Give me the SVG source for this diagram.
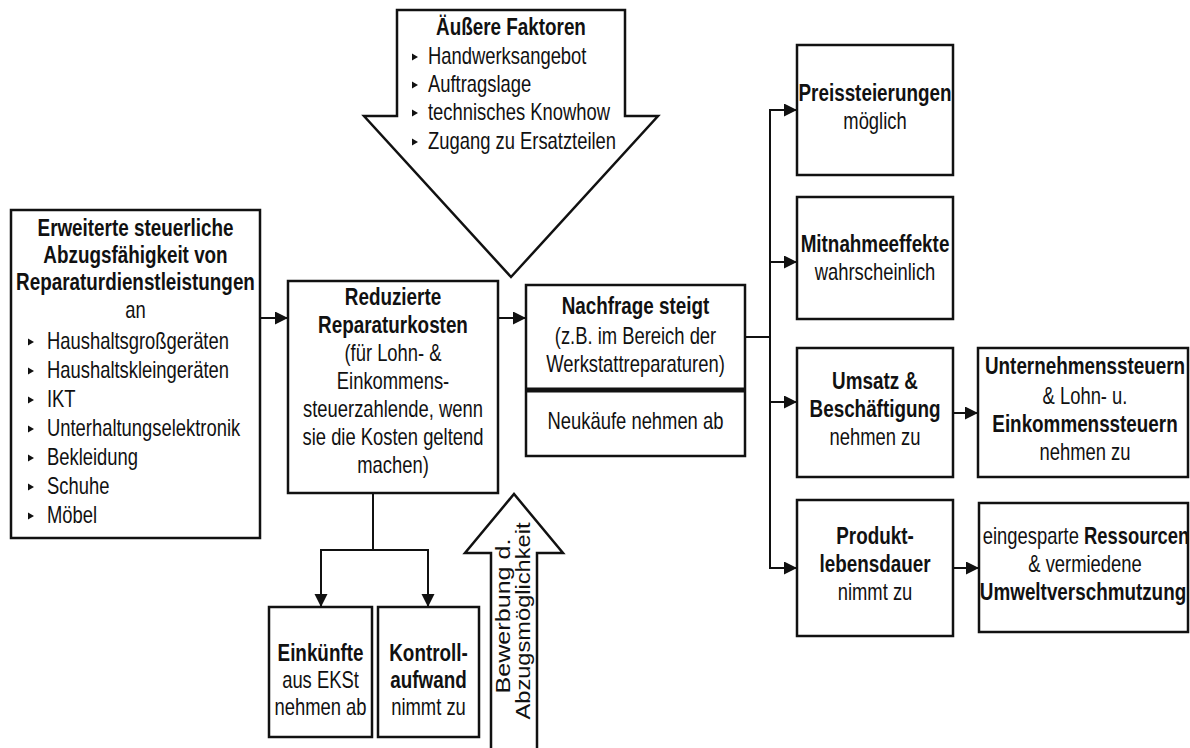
<svg xmlns="http://www.w3.org/2000/svg" width="1190" height="748" viewBox="0 0 1190 748">
<style>
.t{font-family:"Liberation Sans",Arial,sans-serif;font-size:23px;fill:#111}
.c{text-anchor:middle}
.b{font-weight:bold}
.box{fill:#fff;stroke:#111;stroke-width:2.5}
.ln{fill:none;stroke:#111;stroke-width:2}
.rt{font-family:"Liberation Sans",Arial,sans-serif;font-size:21px;fill:#111;text-anchor:middle}
</style>
<defs>
<marker id="ah" markerUnits="userSpaceOnUse" markerWidth="16" markerHeight="14" refX="13" refY="6.5" orient="auto">
<path d="M0,0 L13,6.5 L0,13 z" fill="#111"/>
</marker>
<path id="bul" d="M0,-3.5 L6,0 L0,3.5 z" fill="#111"/>
</defs>
<rect width="1190" height="748" fill="#fff"/>

<g id="aussere-faktoren">
<path class="box" d="M397,10 L625,10 L625,116 L658,116 L511,277 L364,116 L397,116 z"/>
<text class="t c b" transform="translate(511,35) scale(.82,1)">Äußere Faktoren</text>
<use href="#bul" x="412" y="57"/><text class="t" transform="translate(428,64) scale(.8,1)">Handwerksangebot</text>
<use href="#bul" x="412" y="85"/><text class="t" transform="translate(428,92) scale(.8,1)">Auftragslage</text>
<use href="#bul" x="412" y="113"/><text class="t" transform="translate(428,120) scale(.8,1)">technisches Knowhow</text>
<use href="#bul" x="412" y="142"/><text class="t" transform="translate(428,149) scale(.8,1)">Zugang zu Ersatzteilen</text>
</g>

<g id="erweiterte">
<rect class="box" x="11" y="210" width="249" height="328"/>
<text class="t c b" transform="translate(135.5,236) scale(.82,1)">Erweiterte steuerliche</text>
<text class="t c b" transform="translate(135.5,263) scale(.82,1)">Abzugsfähigkeit von</text>
<text class="t c b" transform="translate(135.5,290) scale(.82,1)">Reparaturdienstleistungen</text>
<text class="t c" transform="translate(135.5,318) scale(.8,1)">an</text>
<use href="#bul" x="28" y="342"/><text class="t" transform="translate(47,349) scale(.8,1)">Haushaltsgroßgeräten</text>
<use href="#bul" x="28" y="371"/><text class="t" transform="translate(47,378) scale(.8,1)">Haushaltskleingeräten</text>
<use href="#bul" x="28" y="400"/><text class="t" transform="translate(47,407) scale(.8,1)">IKT</text>
<use href="#bul" x="28" y="429"/><text class="t" transform="translate(47,436) scale(.8,1)">Unterhaltungselektronik</text>
<use href="#bul" x="28" y="458"/><text class="t" transform="translate(47,465) scale(.8,1)">Bekleidung</text>
<use href="#bul" x="28" y="487"/><text class="t" transform="translate(47,494) scale(.8,1)">Schuhe</text>
<use href="#bul" x="28" y="516"/><text class="t" transform="translate(47,523) scale(.8,1)">Möbel</text>
</g>

<g id="reduzierte">
<rect class="box" x="288" y="281" width="210" height="212"/>
<text class="t c b" transform="translate(393,305) scale(.82,1)">Reduzierte</text>
<text class="t c b" transform="translate(393,333) scale(.82,1)">Reparaturkosten</text>
<text class="t c" transform="translate(393,361) scale(.8,1)">(für Lohn- &amp;</text>
<text class="t c" transform="translate(393,389) scale(.8,1)">Einkommens-</text>
<text class="t c" transform="translate(393,417) scale(.8,1)">steuerzahlende, wenn</text>
<text class="t c" transform="translate(393,445) scale(.8,1)">sie die Kosten geltend</text>
<text class="t c" transform="translate(393,473) scale(.8,1)">machen)</text>
</g>

<g id="nachfrage">
<rect class="box" x="526" y="285" width="219" height="171"/>
<line x1="526" y1="390" x2="745" y2="390" stroke="#111" stroke-width="5"/>
<text class="t c b" transform="translate(635.5,314) scale(.82,1)">Nachfrage steigt</text>
<text class="t c" transform="translate(635.5,344) scale(.8,1)">(z.B. im Bereich der</text>
<text class="t c" transform="translate(635.5,372) scale(.8,1)">Werkstattreparaturen)</text>
<text class="t c" transform="translate(635.5,429) scale(.8,1)">Neukäufe nehmen ab</text>
</g>

<g id="preis">
<rect class="box" x="797" y="45" width="156" height="130"/>
<text class="t c b" transform="translate(875,101) scale(.82,1)">Preissteierungen</text>
<text class="t c" transform="translate(875,129) scale(.8,1)">möglich</text>
</g>

<g id="mitnahme">
<rect class="box" x="797" y="197" width="156" height="122"/>
<text class="t c b" transform="translate(875,252) scale(.82,1)">Mitnahmeeffekte</text>
<text class="t c" transform="translate(875,280) scale(.8,1)">wahrscheinlich</text>
</g>

<g id="umsatz">
<rect class="box" x="797" y="348" width="156" height="129"/>
<text class="t c b" transform="translate(875,389) scale(.82,1)">Umsatz &amp;</text>
<text class="t c b" transform="translate(875,417) scale(.82,1)">Beschäftigung</text>
<text class="t c" transform="translate(875,445) scale(.8,1)">nehmen zu</text>
</g>

<g id="steuern">
<rect class="box" x="978" y="348" width="210" height="129"/>
<text class="t c b" transform="translate(1085,374) scale(.82,1)">Unternehmenssteuern</text>
<text class="t c" transform="translate(1085,404) scale(.8,1)">&amp; Lohn- u.</text>
<text class="t c b" transform="translate(1085,432) scale(.82,1)">Einkommenssteuern</text>
<text class="t c" transform="translate(1085,460) scale(.8,1)">nehmen zu</text>
</g>

<g id="produkt">
<rect class="box" x="797" y="500" width="156" height="136"/>
<text class="t c b" transform="translate(875,544) scale(.82,1)">Produkt-</text>
<text class="t c b" transform="translate(875,572) scale(.82,1)">lebensdauer</text>
<text class="t c" transform="translate(875,600) scale(.8,1)">nimmt zu</text>
</g>

<g id="ressourcen">
<rect class="box" x="979" y="503" width="209" height="129"/>
<text class="t c" transform="translate(1086,544) scale(.8,1)">eingesparte <tspan class="b">Ressourcen</tspan></text>
<text class="t c" transform="translate(1085,572) scale(.8,1)">&amp; vermiedene</text>
<text class="t c b" transform="translate(1083,600) scale(.82,1)">Umweltverschmutzung</text>
</g>

<g id="einkuenfte">
<rect class="box" x="269" y="607" width="103" height="130"/>
<text class="t c b" transform="translate(320.5,661) scale(.82,1)">Einkünfte</text>
<text class="t c" transform="translate(320.5,688) scale(.8,1)">aus EKSt</text>
<text class="t c" transform="translate(320.5,715) scale(.8,1)">nehmen ab</text>
</g>

<g id="kontroll">
<rect class="box" x="378" y="607" width="101" height="130"/>
<text class="t c b" transform="translate(428.5,661) scale(.82,1)">Kontroll-</text>
<text class="t c b" transform="translate(428.5,688) scale(.82,1)">aufwand</text>
<text class="t c" transform="translate(428.5,715) scale(.8,1)">nimmt zu</text>
</g>

<g id="bewerbung">
<path class="box" d="M491,760 L491,553 L465,553 L514,494 L563,553 L537,553 L537,760"/>
<text class="rt" transform="translate(510,616) rotate(-90)" textLength="155" lengthAdjust="spacingAndGlyphs">Bewerbung d.</text>
<text class="rt" transform="translate(530,621) rotate(-90)" textLength="197" lengthAdjust="spacingAndGlyphs">Abzugsmöglichkeit</text>
</g>

<g id="connectors">
<line class="ln" x1="260" y1="318" x2="288" y2="318" marker-end="url(#ah)"/>
<line class="ln" x1="498" y1="318" x2="526" y2="318" marker-end="url(#ah)"/>
<line class="ln" x1="745" y1="337" x2="771" y2="337"/>
<line class="ln" x1="770" y1="109" x2="770" y2="569"/>
<line class="ln" x1="769" y1="110" x2="797" y2="110" marker-end="url(#ah)"/>
<line class="ln" x1="769" y1="262" x2="797" y2="262" marker-end="url(#ah)"/>
<line class="ln" x1="769" y1="402" x2="797" y2="402" marker-end="url(#ah)"/>
<line class="ln" x1="769" y1="568" x2="797" y2="568" marker-end="url(#ah)"/>
<line class="ln" x1="953" y1="413" x2="978" y2="413" marker-end="url(#ah)"/>
<line class="ln" x1="953" y1="568" x2="979" y2="568" marker-end="url(#ah)"/>
<line class="ln" x1="373" y1="493" x2="373" y2="550"/>
<polyline class="ln" points="321,550 428,550 428,607" marker-end="url(#ah)"/>
<line class="ln" x1="321" y1="549" x2="321" y2="607" marker-end="url(#ah)"/>
</g>
</svg>
